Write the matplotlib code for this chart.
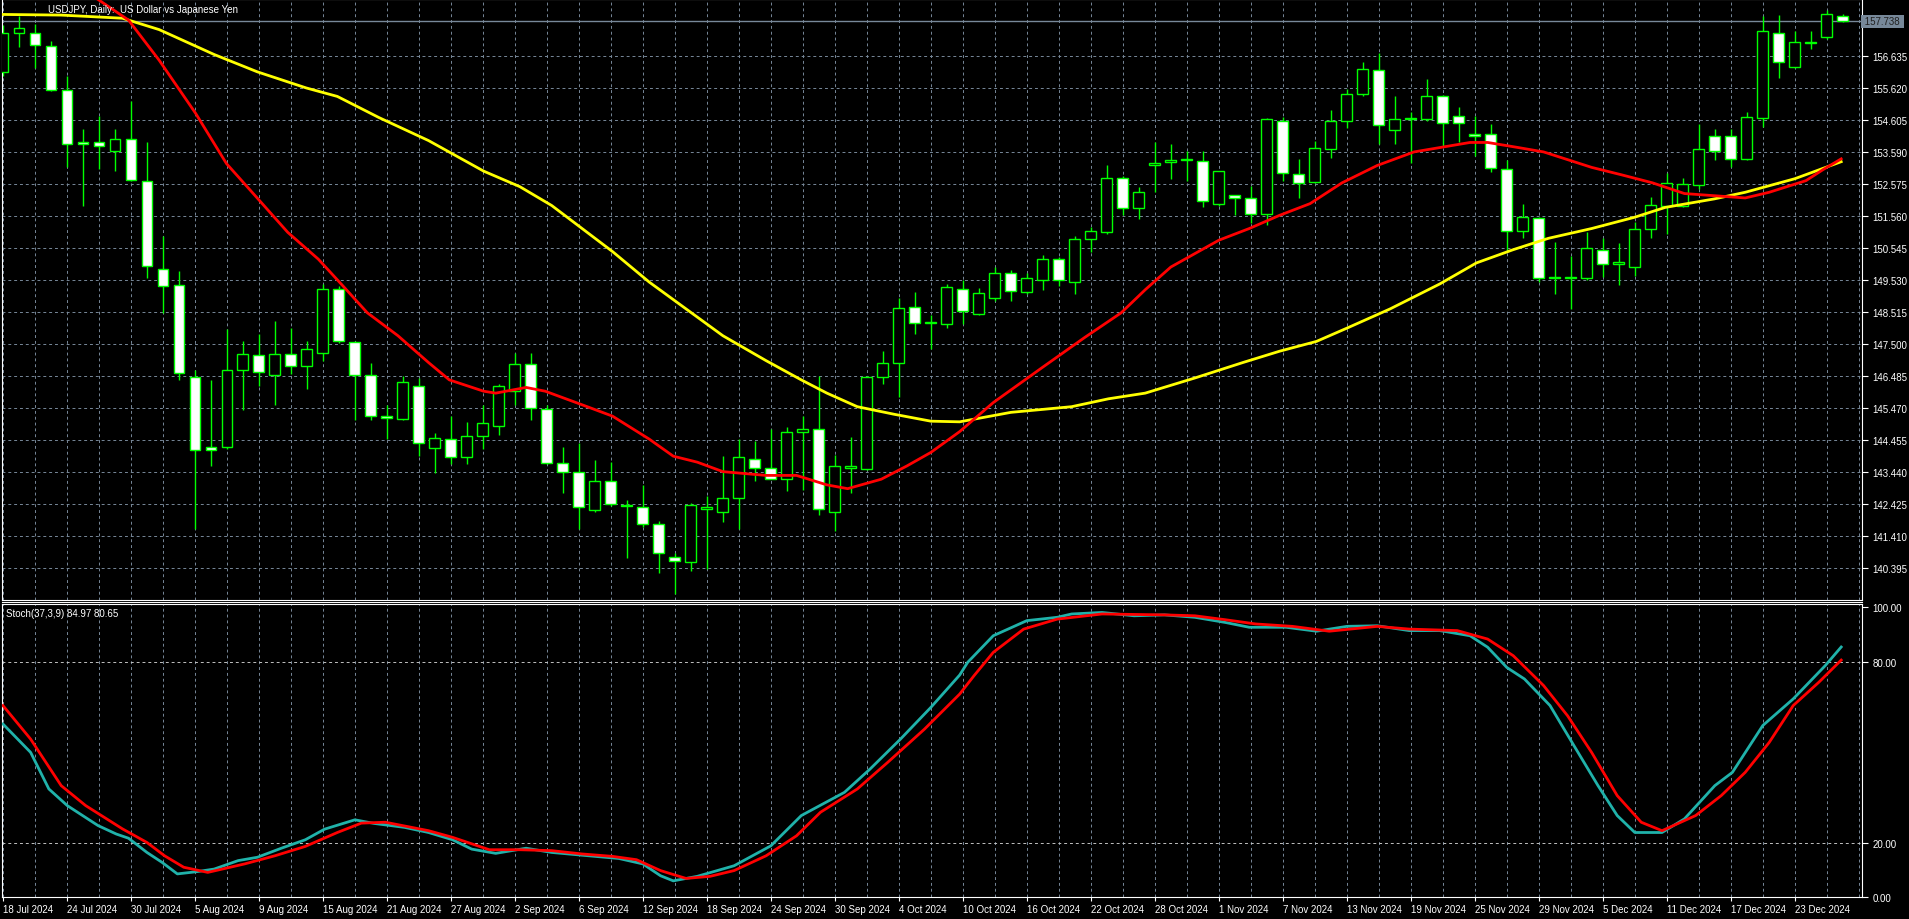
import matplotlib
matplotlib.use("Agg")
import matplotlib.pyplot as plt
import numpy as np
import pandas as pd

plt.rcParams['font.family'] = ['Liberation Sans', 'DejaVu Sans']

# daily bars, 18 Jul - 27 Dec 2024 (no 25 Dec)
dates = [d for d in pd.bdate_range("2024-07-18", "2024-12-27") if not (d.month == 12 and d.day == 25)]

opens = [156.13, 157.35, 157.37, 156.96, 155.55, 153.92, 153.91, 153.62, 153.99, 152.67,
         149.88, 149.36, 146.46, 144.24, 144.24, 146.67, 147.15, 146.52, 147.18, 146.81,
         147.21, 149.25, 147.55, 146.52, 145.21, 145.11, 146.18, 144.21, 144.48, 143.90,
         144.57, 144.91, 146.00, 146.85, 145.45, 143.72, 143.43, 142.23, 143.15, 142.40,
         142.32, 141.78, 140.74, 140.57, 142.26, 142.18, 142.60, 143.84, 143.55, 143.21,
         144.72, 144.79, 142.18, 143.56, 143.54, 146.45, 146.91, 148.66, 148.15, 148.12,
         149.25, 148.46, 148.97, 149.74, 149.16, 149.54, 150.19, 149.46, 150.82, 151.04,
         152.76, 151.80, 153.16, 153.26, 153.34, 153.29, 151.95, 152.23, 152.13, 151.62,
         154.58, 152.89, 152.65, 153.67, 154.56, 155.44, 156.20, 154.28, 154.62, 154.62,
         155.36, 154.74, 154.16, 154.17, 153.06, 151.07, 151.49, 149.60, 149.58, 149.58,
         150.47, 150.03, 149.94, 151.16, 151.89, 151.89, 152.55, 154.10, 154.10, 153.37,
         154.68, 157.35, 156.29, 157.04, 157.23, 157.89]
closes = [157.35, 157.53, 156.98, 155.55, 153.85, 153.83, 153.77, 153.99, 152.70, 149.97,
          149.34, 146.58, 144.15, 144.15, 146.67, 147.18, 146.61, 147.18, 146.81, 147.33,
          149.25, 147.58, 146.52, 145.23, 145.14, 146.28, 144.36, 144.51, 143.90, 144.57,
          144.99, 146.18, 146.85, 145.48, 143.72, 143.43, 142.32, 143.15, 142.42, 142.35,
          141.78, 140.87, 140.60, 142.38, 142.32, 142.60, 143.91, 143.58, 143.23, 144.72,
          144.79, 142.26, 143.63, 143.63, 146.45, 146.91, 148.63, 148.17, 148.18, 149.31,
          148.55, 149.13, 149.74, 149.18, 149.60, 150.19, 149.52, 150.82, 151.07, 152.76,
          151.80, 152.31, 153.25, 153.34, 153.38, 152.03, 152.98, 152.13, 151.62, 154.62,
          152.92, 152.59, 153.71, 154.58, 155.44, 156.23, 154.43, 154.64, 154.65, 155.36,
          154.50, 154.50, 154.10, 153.08, 151.07, 151.52, 149.60, 149.58, 149.60, 150.53,
          150.03, 150.09, 151.16, 151.92, 152.59, 152.58, 153.67, 153.61, 153.38, 154.71,
          157.41, 156.44, 157.07, 157.08, 157.95, 157.75]
highs = [157.60, 157.89, 157.65, 157.10, 156.01, 154.31, 154.74, 154.31, 155.22, 153.89,
         150.91, 149.82, 146.67, 146.36, 147.98, 147.58, 147.82, 148.24, 148.00, 147.58,
         149.40, 149.34, 147.58, 146.91, 145.57, 146.48, 146.42, 144.66, 145.21, 145.03,
         145.57, 146.24, 147.21, 147.21, 145.57, 144.24, 144.36, 143.81, 143.75, 142.54,
         143.03, 141.87, 140.87, 142.44, 142.69, 143.94, 144.48, 144.42, 144.79, 144.87,
         145.21, 146.48, 143.99, 144.54, 146.48, 147.27, 148.97, 149.15, 148.41, 149.40,
         149.52, 149.28, 149.94, 149.86, 149.76, 150.33, 150.25, 150.91, 151.22, 153.16,
         152.83, 152.49, 153.89, 153.85, 153.61, 153.61, 153.00, 152.23, 152.52, 154.68,
         154.70, 153.37, 153.95, 154.92, 155.59, 156.44, 156.74, 155.37, 154.85, 155.89,
         155.41, 155.01, 154.74, 154.46, 153.34, 151.95, 151.52, 150.73, 150.28, 151.04,
         150.85, 150.71, 151.36, 152.15, 152.92, 152.76, 154.46, 154.31, 154.31, 154.86,
         157.89, 157.93, 157.41, 157.41, 158.08, 157.95]
lows = [156.00, 156.92, 156.26, 155.53, 153.10, 151.89, 153.04, 152.98, 152.67, 149.58,
        148.49, 146.36, 141.63, 143.63, 144.18, 145.39, 146.18, 145.57, 146.55, 146.06,
        146.97, 147.52, 145.09, 145.09, 144.48, 145.09, 143.94, 143.41, 143.69, 143.69,
        144.18, 144.60, 145.57, 145.09, 143.69, 142.78, 141.63, 142.18, 142.36, 140.72,
        141.69, 140.23, 139.57, 140.29, 140.35, 141.84, 141.63, 143.15, 143.21, 142.84,
        142.87, 142.06, 141.57, 142.78, 143.51, 146.24, 145.82, 147.82, 147.33, 148.00,
        148.12, 148.43, 148.85, 148.85, 149.09, 149.22, 149.34, 149.07, 150.43, 150.98,
        151.58, 151.46, 152.31, 152.74, 152.67, 151.83, 151.89, 151.58, 151.34, 151.28,
        152.67, 152.13, 152.61, 153.40, 154.34, 155.35, 153.83, 153.83, 153.25, 154.58,
        153.77, 153.92, 153.46, 152.95, 150.43, 150.85, 149.46, 149.07, 148.61, 149.52,
        149.62, 149.36, 149.64, 150.85, 150.98, 151.83, 152.40, 153.34, 153.10, 153.32,
        154.37, 155.95, 156.26, 156.86, 157.17, 157.71]

# moving averages (bar index, price)
red_ma_x = [0, 3, 5.9, 7.85, 9.76, 12.06, 13.97, 15.89, 17.8, 19.71, 21.25, 22.77, 24.69, 26.6, 27.9,
            30.05, 30.8, 32.7, 33.9, 36.2, 38.1, 40.4, 41.9, 43.4, 45.0, 47.7, 49.6, 51.5, 52.8, 54.9,
            56.5, 58.0, 59.8, 61.9, 64.9, 67.6, 69.9, 71.4, 73.0, 76.0, 77.9, 79.8, 81.7, 83.7, 85.9,
            88.2, 91.7, 92.8, 94.7, 96.3, 99.3, 101.2, 103.1, 105.1, 108.9, 110.4, 112.7, 113.8, 114.9]
red_ma_y = [160.5, 159.5, 158.44, 157.77, 156.50, 154.80, 153.22, 152.13, 151.04, 150.19, 149.34, 148.49,
            147.76, 146.91, 146.36, 146.00, 145.94, 146.12, 146.00, 145.57, 145.21, 144.48, 143.94, 143.75,
            143.45, 143.33, 143.33, 143.03, 142.91, 143.21, 143.63, 144.06, 144.72, 145.64, 146.73, 147.70,
            148.49, 149.22, 149.94, 150.79, 151.16, 151.58, 151.95, 152.61, 153.16, 153.59, 153.89, 153.89,
            153.73, 153.59, 153.10, 152.86, 152.61, 152.27, 152.13, 152.31, 152.68, 153.04, 153.37]
yel_ma_x = [0, 3.64, 7.47, 9.76, 13.2, 15.9, 18.95, 20.9, 23.5, 26.6, 30.05, 32.3, 34.3, 36.2, 38.1,
            40.4, 42.7, 45.0, 47.7, 49.9, 51.5, 53.4, 55.7, 58.0, 59.8, 63.0, 66.8, 69.1, 71.4, 74.5,
            77.5, 79.8, 82.1, 84.0, 86.7, 89.8, 92.1, 94.4, 96.6, 99.3, 102.0, 103.9, 106.97, 108.9,
            112.0, 114.9]
yel_ma_y = [157.95, 157.93, 157.83, 157.47, 156.68, 156.13, 155.62, 155.35, 154.68, 153.95, 152.98,
            152.49, 151.89, 151.16, 150.43, 149.46, 148.61, 147.76, 146.97, 146.36, 145.94, 145.51,
            145.27, 145.05, 145.03, 145.33, 145.51, 145.76, 145.94, 146.42, 146.91, 147.27, 147.58,
            148.00, 148.61, 149.40, 150.07, 150.49, 150.85, 151.16, 151.52, 151.83, 152.10, 152.31,
            152.74, 153.28]

# Stochastic(37,3,9)
stoch_main_x = [0, 1.73, 2.87, 4.02, 5.94, 7.08, 7.85, 9.0, 9.95, 10.9, 12.06, 13.2, 14.7, 15.9, 17.4,
                18.9, 20.1, 22.0, 23.2, 25.1, 26.6, 28.1, 29.3, 30.8, 32.7, 34.3, 36.6, 38.5, 40.0,
                41.1, 41.9, 43.4, 45.7, 48.0, 49.9, 52.6, 54.2, 56.1, 58.0, 59.8, 60.3, 61.9, 64.0,
                65.9, 66.8, 68.7, 70.7, 72.6, 74.5, 76.4, 77.9, 80.2, 82.1, 84.0, 85.9, 87.9, 89.8,
                91.7, 92.8, 94.0, 95.1, 96.7, 98.2, 99.7, 100.9, 102.0, 103.7, 105.1, 107.0, 108.1,
                110.0, 111.9, 113.9, 114.9]
stoch_main_y = [59.5, 50.1, 38.0, 32.5, 25.9, 23.1, 21.7, 17.0, 13.7, 9.9, 10.6, 11.5, 14.3, 15.4, 18.4,
                21.2, 24.7, 27.8, 26.6, 25.3, 23.6, 21.2, 18.1, 16.7, 18.4, 17.0, 15.9, 15.0, 13.2,
                9.3, 7.6, 9.1, 12.6, 19.2, 29.2, 36.9, 44.6, 54.5, 65.0, 75.7, 79.9, 88.7, 93.7,
                94.8, 95.9, 96.4, 95.3, 95.6, 94.8, 93.1, 91.5, 91.5, 90.2, 91.8, 92.0, 90.4, 90.4,
                88.7, 84.9, 78.2, 74.4, 65.6, 52.3, 39.1, 29.2, 23.6, 23.6, 28.1, 39.1, 43.5,
                59.0, 67.8, 78.8, 84.97]
stoch_sig_x = [0, 1.73, 3.64, 5.17, 7.47, 9.0, 10.1, 11.3, 12.8, 15.1, 17.0, 18.9, 20.9, 22.4, 23.9,
               26.6, 28.1, 30.4, 32.3, 34.3, 36.2, 38.1, 39.6, 41.1, 42.7, 44.2, 45.7, 47.7, 49.6,
               51.1, 53.4, 55.3, 57.6, 59.8, 60.7, 61.9, 63.8, 65.9, 68.7, 72.6, 74.5, 76.4, 78.3,
               80.6, 82.9, 85.9, 87.9, 90.9, 92.8, 94.4, 96.3, 97.8, 99.3, 100.9, 102.4, 103.7,
               105.8, 107.4, 108.9, 110.4, 111.9, 113.5, 114.9]
stoch_sig_y = [65.6, 54.5, 39.1, 32.5, 24.8, 20.3, 15.9, 12.1, 10.4, 13.2, 15.9, 19.0, 23.6, 26.7, 27.0,
               24.2, 22.0, 17.9, 17.9, 17.6, 16.5, 15.7, 14.6, 11.0, 8.4, 9.1, 11.0, 15.9, 22.5,
               30.3, 38.0, 46.8, 57.8, 69.4, 75.5, 83.2, 90.9, 94.2, 95.9, 95.6, 95.3, 94.0, 92.6,
               91.8, 90.2, 91.8, 90.9, 90.4, 87.6, 82.1, 72.2, 62.2, 50.1, 35.8, 27.0, 24.2,
               29.2, 35.8, 43.5, 53.4, 65.6, 73.3, 80.65]

price_ticks = [156.635, 155.620, 154.605, 153.590, 152.575, 151.560, 150.545, 149.530, 148.515,
               147.500, 146.485, 145.470, 144.455, 143.440, 142.425, 141.410, 140.395]
last_price = 157.738
stoch_ticks = [98.2, 80, 20, 2.3]
stoch_tick_labels = ["100.00", "80.00", "20.00", "0.00"]
title = "USDJPY, Daily:  US Dollar vs Japanese Yen"
stoch_title = "Stoch(37,3,9) 84.97 80.65"

W, H = 1909, 920
fig = plt.figure(figsize=(W / 100, H / 100), dpi=100, facecolor="black")
ax1 = fig.add_axes([2 / W, 1 - 601 / H, 1860 / W, 601 / H], facecolor="black")
ax2 = fig.add_axes([2 / W, 22 / H, 1860 / W, 293 / H], facecolor="black")

grid_col = "#778899"
dash = (0, (3, 3))
n = len(dates)
x = np.arange(n)
for ax in (ax1, ax2):
    ax.set_xlim(-0.06, 116.2)
    for s in ax.spines.values():
        s.set_color("white")
    ax.yaxis.tick_right()
    ax.tick_params(colors="white", labelsize=7, length=4, width=0.8)
    for gx in range(0, n + 1, 2):
        ax.axvline(gx, color=grid_col, lw=0.7, ls=dash, zorder=0)

# candles
o = np.array(opens); c = np.array(closes)
ax1.vlines(x, lows, highs, color="#00ff00", lw=1, zorder=2)
body_lo = np.minimum(o, c)
body_h = np.maximum(np.abs(c - o), 0.03)
face = ["black" if cc > oo else "white" for oo, cc in zip(o, c)]
ax1.bar(x, body_h, bottom=body_lo, width=0.68, color=face, edgecolor="#00ff00", lw=1, zorder=3)

ax1.plot(yel_ma_x, yel_ma_y, color="#ffff00", lw=2.0, zorder=4)
ax1.plot(red_ma_x, red_ma_y, color="#ff0000", lw=2.0, zorder=5)
ax1.axhline(last_price, color=grid_col, lw=1, zorder=1)

ax1.set_ylim(158.44 - 601 / 31.53, 158.44)
ax1.set_yticks(price_ticks)
ax1.set_yticklabels([f"{p:.3f}" for p in price_ticks])
ax1.grid(axis="y", color=grid_col, lw=0.7, ls=dash)
ax1.set_xticks([])
ax1.text(1.0, last_price, f" {last_price:.3f} ", transform=ax1.get_yaxis_transform(),
         color="#202020", fontsize=7, va="center", ha="left",
         bbox=dict(boxstyle="square,pad=0.15", fc=grid_col, ec="none"), clip_on=False)

# stochastic pane
ax2.plot(stoch_main_x, stoch_main_y, color="#20b2aa", lw=2.0, zorder=3)
ax2.plot(stoch_sig_x, stoch_sig_y, color="#ff0000", lw=2.0, zorder=4)
ax2.set_ylim(2.26, 99.2)
for lv in (80, 20):
    ax2.axhline(lv, color="#c0c0c0", lw=0.7, ls=dash, zorder=1)
ax2.set_yticks(stoch_ticks)
ax2.set_yticklabels(stoch_tick_labels)
tick_idx = list(range(0, n, 4))
ax2.set_xticks(tick_idx)
ax2.set_xticklabels([f"{dates[i].day} {dates[i].strftime('%b %Y')}" for i in tick_idx], ha="left")
ax2.tick_params(axis="x", length=3, pad=2)

fig.text(48 / W, 1 - 10 / H, title, color="white", fontsize=7, va="center")
ax2.text(4 / 1860, 1 - 9 / 293, stoch_title, transform=ax2.transAxes, color="white", fontsize=7, va="center")
# double separator line between panes
fig.add_artist(plt.Line2D([2 / W, 1862 / W], [1 - 603 / H] * 2, color="white", lw=0.8))

fig.savefig("out.png", dpi=100, facecolor="black")
